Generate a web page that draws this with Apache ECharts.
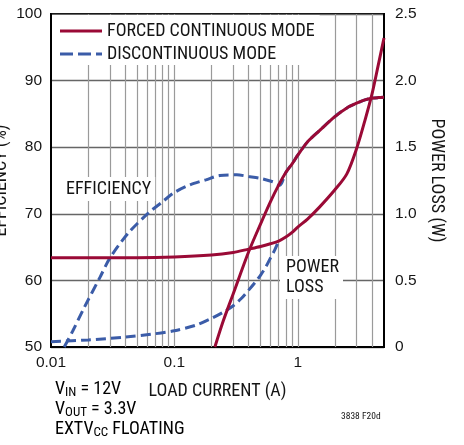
<!DOCTYPE html>
<html><head><meta charset="utf-8">
<script src="https://cdn.jsdelivr.net/npm/echarts@6/dist/echarts.min.js"></script>
<style>html,body{margin:0;padding:0;background:#fff}#c{width:464px;height:445px}</style>
</head><body><div id="c"></div>
<script>
// Load current (A) and readings
const fcmEffX = [0.213,0.25,0.3,0.4,0.5,0.6,0.7,0.8,0.9,1,1.2,1.5,2,2.5,3,3.5,4,4.5,5];
const fcmEffY = [50,54,58,64.3,68.5,71.8,74.3,76.2,77.5,78.8,80.8,82.5,84.6,85.9,86.6,87.1,87.35,87.45,87.5];
const dcmEffX = [0.0128,0.015,0.0188,0.025,0.03,0.0423,0.0614,0.08,0.1,0.1335,0.18,0.2335,0.32,0.4,0.492,0.631,0.715,0.8,0.9,1,1.2,1.5,2,2.5,3,3.5,4,4.5,5];
const dcmEffY = [50,52.4,56.1,60.5,63.35,67.1,70.1,71.8,73.2,74.35,75.1,75.75,75.85,75.6,75.35,74.8,74.3,76.2,77.5,78.8,80.8,82.5,84.6,85.9,86.6,87.1,87.35,87.45,87.5];
const fcmLossX = [0.01,0.02,0.05,0.1,0.2,0.3,0.4,0.5,0.6,0.7,0.8,0.9,1,1.2,1.5,2,2.5,3,3.5,4,4.5,5];
const fcmLossY = [0.67,0.67,0.67,0.675,0.69,0.71,0.735,0.755,0.775,0.795,0.825,0.86,0.9,0.96,1.05,1.18,1.3,1.49,1.7,1.9,2.12,2.32];
const dcmLossX = [0.01,0.02,0.04,0.07,0.1,0.15,0.2,0.25,0.3,0.35,0.4,0.45,0.5,0.55,0.6,0.65,0.7];
const dcmLossY = [0.04,0.053,0.075,0.1,0.122,0.164,0.215,0.262,0.31,0.366,0.427,0.484,0.54,0.6,0.667,0.728,0.795];
const gridX = [0.02,0.03,0.04,0.05,0.06,0.07,0.08,0.09,0.1,0.2,0.3,0.4,0.5,0.6,0.7,0.8,0.9,1,2,3,4];
const xTickLabels = {0.01:'0.01',0.1:'0.1',1:'1'};
const seriesNames = ['FORCED CONTINUOUS MODE','DISCONTINUOUS MODE'];

const RED = '#9a0a36', BLUE = '#3b5ca8', INK = '#151515';
const COND = '"Roboto Condensed", "DejaVu Sans Condensed", sans-serif';
const REG = '"Liberation Sans", Arial, sans-serif';
const zip = (xs, ys) => xs.map((x, i) => [x, ys[i]]);

const chart = echarts.init(document.getElementById('c'), null, {renderer: 'canvas'});
const dashed = [10, 5];
const sub = {fontFamily: COND, fontSize: 13, color: INK, padding: [7, 0, 0, 0]};
const main = {fontFamily: COND, fontSize: 18, color: INK};
chart.setOption({
  animation: false,
  backgroundColor: '#fff',
  grid: {left: 51, right: 80, top: 14, bottom: 98, outerBoundsMode: 'none', containLabel: false, show: true, borderColor: '#000', borderWidth: 2, backgroundColor: 'transparent'},
  legend: {
    left: 52, top: 15, orient: 'vertical', backgroundColor: '#fff',
    padding: [7, 5, 2, 8], itemWidth: 42, itemHeight: 3, itemGap: 5, selectedMode: false,
    textStyle: {fontFamily: COND, fontSize: 18, color: INK, lineHeight: 16},
    data: [
      {name: seriesNames[0], icon: 'path://M0,0H42V3H0Z', itemStyle: {color: RED}},
      {name: seriesNames[1], icon: 'path://M0,0h13v3h-13z M18,0h13v3h-13z M36,0h6v3h-6z', itemStyle: {color: BLUE}}
    ]
  },
  xAxis: {
    type: 'log', logBase: 10, min: 0.01, max: 5,
    name: 'LOAD CURRENT (A)', nameLocation: 'middle', nameGap: 35, nameMoveOverlap: false,
    nameTextStyle: {fontFamily: COND, fontSize: 18, color: INK},
    axisLine: {show: true, lineStyle: {color: '#000', width: 2}},
    axisTick: {show: false}, splitLine: {show: false},
    axisLabel: {fontFamily: REG, fontSize: 15.5, color: INK, margin: 8, showMaxLabel: false,
      formatter: v => xTickLabels[v] !== undefined ? xTickLabels[v] : ''}
  },
  yAxis: [{
    type: 'value', min: 50, max: 100, interval: 10, position: 'left',
    name: 'EFFICIENCY (%)', nameLocation: 'middle', nameGap: 41, nameRotate: 90, nameMoveOverlap: false,
    nameTextStyle: {fontFamily: COND, fontSize: 18, color: INK},
    axisLine: {show: true, lineStyle: {color: '#000', width: 2}}, axisTick: {show: false},
    splitLine: {show: true, lineStyle: {color: '#666', width: 1.3}},
    axisLabel: {fontFamily: REG, fontSize: 15.5, color: INK, margin: 9}
  }, {
    type: 'value', min: 0, max: 2.5, interval: 0.5, position: 'right',
    name: 'POWER LOSS (W)', nameLocation: 'middle', nameGap: 43, nameRotate: -90, nameMoveOverlap: false,
    nameTextStyle: {fontFamily: COND, fontSize: 18, color: INK},
    axisLine: {show: true, lineStyle: {color: '#000', width: 2}}, axisTick: {show: false},
    splitLine: {show: false},
    axisLabel: {fontFamily: REG, fontSize: 15.5, color: INK, margin: 11,
      formatter: v => v === 0 ? '0' : v.toFixed(1)}
  }],
  graphic: [
    {type: 'text', z: 3, left: 61, top: 177, style: {text: 'EFFICIENCY', font: '18px ' + COND, fill: INK, backgroundColor: '#fff', padding: [3, 4, 3, 5]}},
    {type: 'text', z: 3, left: 280, top: 256, style: {text: 'POWER\nLOSS', font: '18px ' + COND, fill: INK, lineHeight: 20, backgroundColor: '#fff', padding: [1, 4, 2, 6]}},
    {type: 'text', z: 3, left: 55, top: 380, style: {text: '{a|V}{s|IN}{a| = 12V}', rich: {a: main, s: sub}}},
    {type: 'text', z: 3, left: 55, top: 400, style: {text: '{a|V}{s|OUT}{a| = 3.3V}', rich: {a: main, s: sub}}},
    {type: 'text', z: 3, left: 55, top: 420, style: {text: '{a|EXTV}{s|CC}{a| FLOATING}', rich: {a: main, s: sub}}},
    {type: 'text', z: 3, left: 341, top: 412, style: {text: '3838 F20d', font: '9.5px ' + COND, fill: INK}}
  ],
  series: [
    {name: seriesNames[1], type: 'line', yAxisIndex: 1, data: zip(dcmLossX, dcmLossY), symbol: 'none', smooth: 0.3,
      lineStyle: {color: BLUE, width: 3, type: dashed}, itemStyle: {color: BLUE}, z: 2,
      markLine: {silent: true, z: 1, symbol: ['none', 'none'], label: {show: false}, animation: false,
        lineStyle: {color: '#9a9a9a', width: 1.2, type: 'solid'}, emphasis: {disabled: true},
        data: gridX.map(v => ({xAxis: v}))}},
    {name: seriesNames[1], type: 'line', yAxisIndex: 0, data: zip(dcmEffX, dcmEffY), symbol: 'none', smooth: 0.3,
      lineStyle: {color: BLUE, width: 3, type: dashed}, itemStyle: {color: BLUE}, z: 2},
    {name: seriesNames[0], type: 'line', yAxisIndex: 1, data: zip(fcmLossX, fcmLossY), symbol: 'none', smooth: 0.3,
      lineStyle: {color: RED, width: 3}, itemStyle: {color: RED}, z: 3},
    {name: seriesNames[0], type: 'line', yAxisIndex: 0, data: zip(fcmEffX, fcmEffY), symbol: 'none', smooth: 0.3,
      lineStyle: {color: RED, width: 3}, itemStyle: {color: RED}, z: 3}
  ]
});
</script></body></html>
